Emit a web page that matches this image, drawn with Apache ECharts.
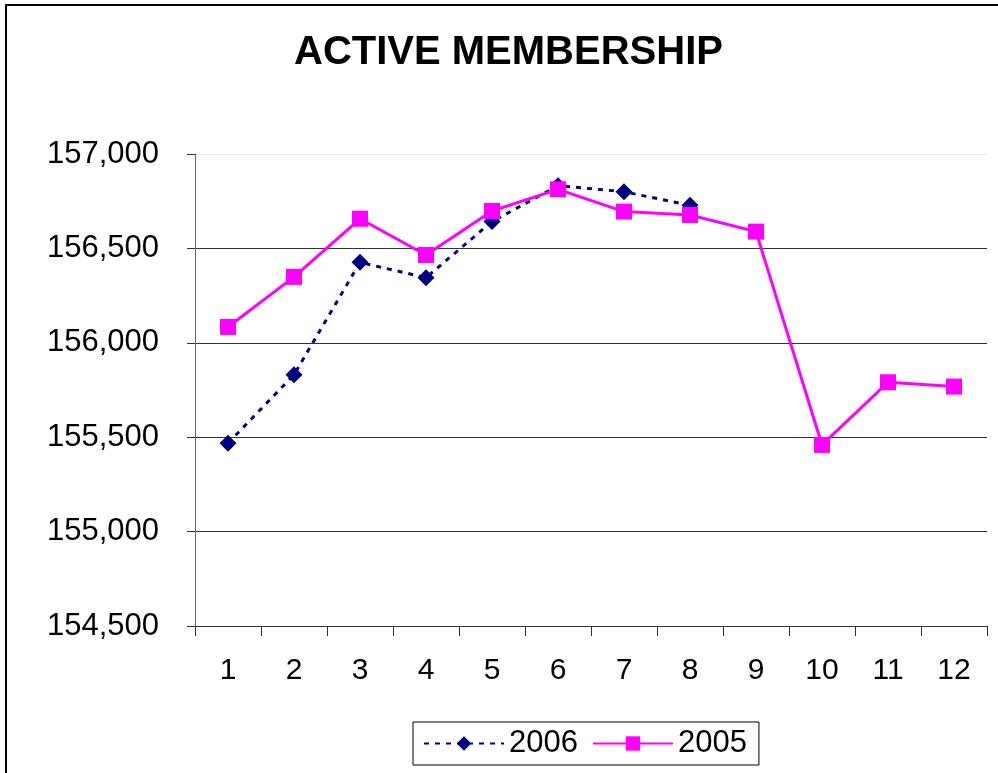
<!DOCTYPE html>
<html>
<head>
<meta charset="utf-8">
<script src="https://cdn.jsdelivr.net/npm/echarts@6/dist/echarts.min.js"></script>
<style>
html,body{margin:0;padding:0;background:#fff;}
#chart{width:998px;height:773px;}
</style>
</head>
<body>
<div id="chart"></div>
<script>
var categories = ['1','2','3','4','5','6','7','8','9','10','11','12'];
var series2006 = [155468, 155831, 156426, 156345, 156642, 156832, 156800, 156728, null, null, null, null];
var series2005 = [156084, 156349, 156657, 156465, 156698, 156813, 156695, 156677, 156589, 155459, 155791, 155768];
var seriesNames = ['2006', '2005'];
var yMin = 154500, yMax = 157000, yStep = 500;
var titleText = 'ACTIVE MEMBERSHIP';

var chart = echarts.init(document.getElementById('chart'), null, {renderer: 'canvas'});
var font = '"Liberation Sans", Arial, sans-serif';
chart.setOption({
  backgroundColor: '#fff',
  animation: false,
  title: {
    text: titleText,
    left: 289,
    top: 28,
    textStyle: {fontFamily: font, fontSize: 40, fontWeight: 'bold', color: '#000'}
  },
  graphic: [{
    type: 'rect',
    shape: {x: 6, y: 5, width: 1200, height: 1000},
    style: {fill: 'none', stroke: '#000', lineWidth: 2},
    silent: true
  }],
  legend: {
    data: seriesNames,
    left: 413,
    top: 722,
    padding: [6, 12, 6, 10],
    borderColor: '#000',
    borderWidth: 1,
    itemWidth: 80,
    itemHeight: 18,
    itemGap: 14,
    textStyle: {fontFamily: font, fontSize: 31, color: '#000'}
  },
  grid: {left: 195, right: 11, top: 154, bottom: 147, containLabel: false},
  xAxis: {
    type: 'category',
    data: categories,
    boundaryGap: true,
    axisLine: {lineStyle: {color: '#333', width: 1}},
    axisTick: {show: true, length: 10, lineStyle: {color: '#333'}},
    axisLabel: {fontFamily: font, fontSize: 30, color: '#000', margin: 30},
    splitLine: {show: false}
  },
  yAxis: {
    type: 'value',
    min: yMin,
    max: yMax,
    interval: yStep,
    axisLine: {show: true, lineStyle: {color: '#666', width: 1}},
    axisTick: {show: true, length: 8, lineStyle: {color: '#333'}},
    axisLabel: {
      fontFamily: font, fontSize: 31, color: '#000', margin: 36,
      formatter: function (v) { return v.toLocaleString('en-US'); }
    },
    splitLine: {show: true, lineStyle: {color: ['#333', '#333', '#333', '#333', '#333', '#e6e6e6'], width: 1}}
  },
  series: [
    {
      name: seriesNames[0],
      type: 'line',
      data: series2006,
      symbol: 'diamond',
      symbolSize: 17,
      itemStyle: {color: '#000080'},
      lineStyle: {color: '#000080', width: 3, type: [5, 6]},
      connectNulls: false
    },
    {
      name: seriesNames[1],
      type: 'line',
      data: series2005,
      symbol: 'rect',
      symbolSize: 16,
      itemStyle: {color: '#ff00ff'},
      lineStyle: {color: '#ff00ff', width: 3, type: 'solid'}
    }
  ]
});
</script>
</body>
</html>
